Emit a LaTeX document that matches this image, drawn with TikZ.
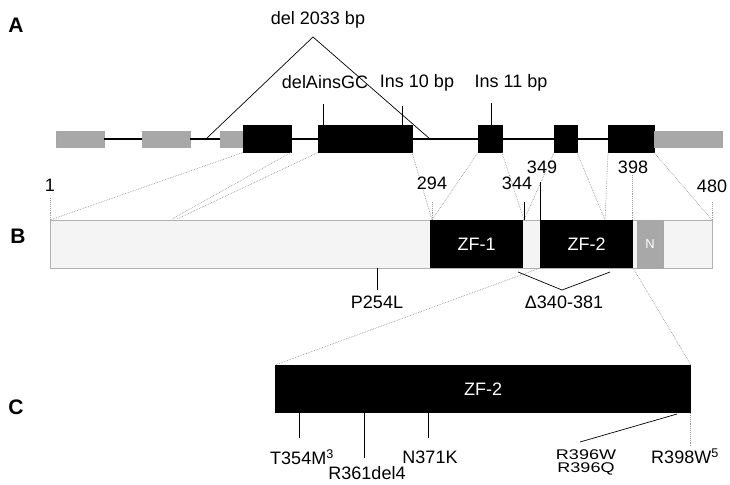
\documentclass[tikz,border=0pt]{standalone}
\usepackage{fontspec}
\setmainfont{Liberation Sans}
\usetikzlibrary{positioning}
\definecolor{utrgray}{HTML}{A8A8A8}
\definecolor{protpale}{HTML}{F4F4F4}
\tikzset{every node/.style={font=\fontsize{18}{20}\selectfont},
  utr/.style={draw=gray!70,fill=utrgray,inner sep=0pt,outer sep=0pt,minimum height=16pt},
  cds/.style={draw=black,fill=black,inner sep=0pt,outer sep=0pt,minimum height=27pt},
  intron/.style={draw=black,line width=1.2pt},
  map/.style={draw=gray!80,densely dotted,line width=.7pt},
  tick/.style={draw=black,line width=.7pt},
  dtick/.style={draw=gray!80,densely dotted,line width=.9pt},
  zfbox/.style={inner sep=0pt,outer sep=0pt,minimum height=48pt,text=white},
  panel/.style={font=\fontsize{21}{22}\selectfont\bfseries}}

\begin{document}
\begin{tikzpicture}[x=1pt,y=-1pt]
\useasboundingbox (0,0) rectangle (730,484);
% A: exon-intron structure of the gene
\node[panel] (pA) at (16,25) {A};
\node[utr,minimum width=48pt] (u1) at (80,139) {};\node[utr,minimum width=48pt] (u2) at (166,139) {};
\node[utr,minimum width=23pt] (u3) at (231.5,139) {};\node[cds,minimum width=48pt] (c1) at (267,139) {};
\node[cds,minimum width=94pt] (c2) at (365,139) {};\node[cds,minimum width=24pt] (c3) at (490,139) {};
\node[cds,minimum width=23pt] (c4) at (565.5,139) {};\node[cds,minimum width=46pt] (c5) at (631,139) {};
\node[utr,minimum width=68pt] (u4) at (688,139) {};
\draw[intron] (u1.east)--(u2.west) (u2.east)--(u3.west) (c1.east)--(c2.west) (c2.east)--(c3.west)
  (c3.east)--(c4.west) (c4.east)--(c5.west);
% mutations on the gene
\node (del) at (318,20) {del 2033 bp};\coordinate (delapex) at (313,37);
\coordinate (delL) at (207,138);\coordinate (delR) at (430,139);
\draw[tick] (delL)--(delapex)--(delR);
\node (ains) at (325,82) {delAinsGC};\coordinate (ainsT) at (323,104);\draw[tick] (ainsT)--(ainsT |- c2.north);
\node (ins10) at (417,83) {Ins 10 bp};\coordinate (ins10T) at (402,106);\draw[tick] (ins10T)--(ins10T |- c2.north);
\node (ins11) at (511,83) {Ins 11 bp};\coordinate (ins11T) at (491,103);\draw[tick] (ins11T)--(ins11T |- c3.north);
% B: protein with zinc fingers
\node[panel] (pB) at (18,236) {B};
\node[draw=gray!60,fill=protpale,inner sep=0pt,outer sep=0pt,minimum width=662pt,minimum height=48pt,anchor=north west] (prot) at (50,220) {};
\node[zfbox,fill=black,minimum width=93pt] (zf1) at (476.5,244) {ZF-1};
\node[zfbox,fill=black,minimum width=93pt] (zf2) at (586.5,244) {ZF-2};
\node[zfbox,draw=gray!70,fill=utrgray,minimum width=26pt,font=\fontsize{13}{14}\selectfont] (nls) at (650,244) {N};
\coordinate (p1) at (50,220);\coordinate (pmid) at (172,219);\coordinate (p294) at (432,220);
\coordinate (p344) at (524,220);\coordinate (p349) at (540,220);\coordinate (pzf) at (605,220);
\coordinate (p398) at (632,220);\coordinate (p480) at (712,220);
% exon to residue mapping
\draw[map] (c1.south west)--(p1) (c1.south east)--(pmid) (c2.south west)--([xshift=5pt]pmid)
  (c2.south east)--(p294) (c3.south west)--(p294) (c3.south east)--(p344) (c4.south west)--(p344)
  (c4.south east)--(pzf) (c5.south west)--(pzf) (c5.south east)--(p480);
% residue numbers
\node (n1) at (50,185) {1};\draw[dtick] (p1)--++(0,-22);
\node (n294) at (432,183) {294};\draw[dtick] (p294)--++(0,-18);
\node (n344) at (517,183) {344};\draw[tick] (p344)--++(0,-18);
\node (n349) at (542,167) {349};\draw[tick] (p349)--++(0,-38);
\node (n398) at (633,167) {398};\draw[dtick] (p398)--++(0,-45);
\node (n480) at (712,186) {480};\draw[dtick] (p480)--++(0,-18);
% mutations on the protein
\coordinate (dl) at (518,272);\coordinate (dapex) at (562,290);\coordinate (dr) at (610,272);
\draw[tick] (dl)--(dapex)--(dr);\node (dlab) at (564,302) {Δ340-381};
\coordinate (p254) at (377,268);\draw[tick] (p254)--++(0,22);\node (plab) at (377,302) {P254L};
% C: second zinc finger enlarged
\node[panel] (pC) at (16,407) {C};
\node[zfbox,fill=black,minimum width=416pt] (zfc) at (483,389) {ZF-2};
\draw[map] (zf2.south west)--(zfc.north west) (zf2.south east)--(zfc.north east);
\coordinate (m354) at (299,413);\draw[tick] (m354)--++(0,25);\node (t354) at (302,457) {T354M\textsuperscript{3}};
\coordinate (m361) at (364,413);\draw[tick] (m361)--++(0,45);\node (r361) at (367,473) {R361del4};
\coordinate (m371) at (428,413);\draw[tick] (m371)--++(0,25);\node (n371) at (430,457) {N371K};
\coordinate (m396) at (677,414);\coordinate (m396e) at (580,442);\draw[tick] (m396)--(m396e);
\node[inner sep=0pt] (r396w) at (586,455) {\scalebox{1}[.78]{R396W}};
\node[inner sep=0pt] (r396q) at (586,469) {\scalebox{1}[.78]{R396Q}};
\coordinate (m398) at (690,413);\draw[dtick] (m398)--++(0,34);\node (r398) at (685,456) {R398W\textsuperscript{5}};
\end{tikzpicture}
\end{document}
